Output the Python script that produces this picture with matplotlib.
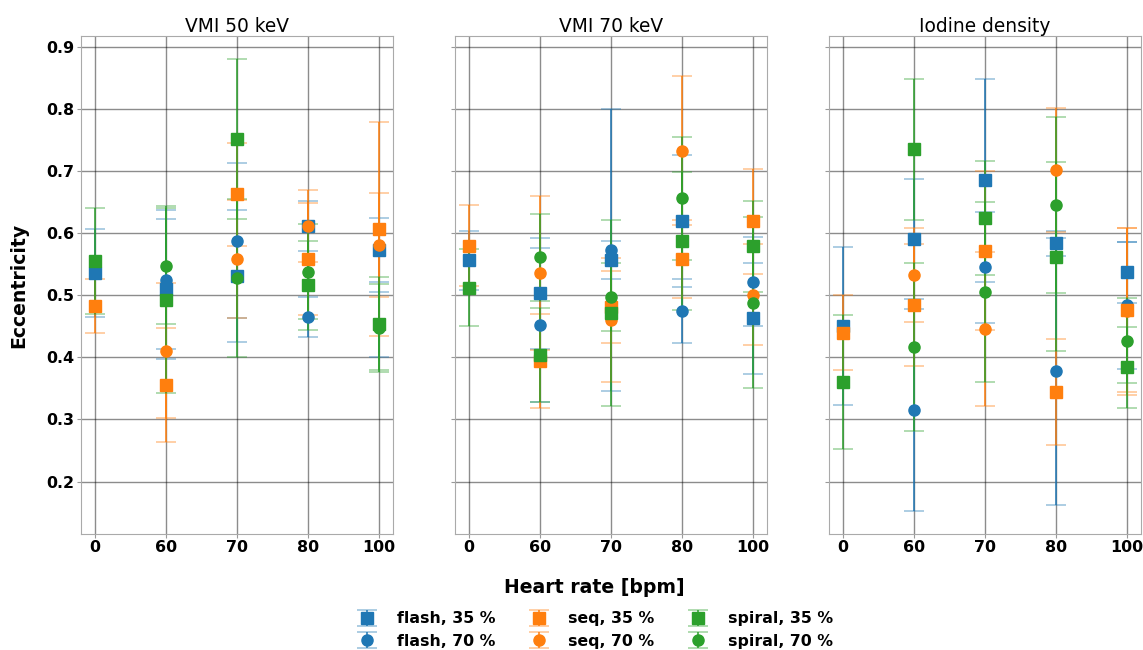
import numpy as np
import matplotlib.pyplot as plt

# heart rate groups (categorical x positions)
hr_labels = ["0", "60", "70", "80", "100"]
panel_titles = ["VMI 50 keV", "VMI 70 keV", "Iodine density"]
series_names = ["flash, 35 %", "flash, 70 %", "seq, 35 %", "seq, 70 %",
                "spiral, 35 %", "spiral, 70 %"]
series_colors = ["tab:blue", "tab:blue", "tab:orange", "tab:orange",
                 "tab:green", "tab:green"]
series_markers = ["s", "o", "s", "o", "s", "o"]

nan = np.nan

# VMI 50 keV : mean eccentricity and std per heart rate
vmi50_mean = [
    [0.536, 0.510, 0.531, 0.612, 0.573],  # flash 35
    [nan, 0.525, 0.588, 0.465, 0.453],    # flash 70
    [0.483, 0.355, 0.663, 0.558, 0.607],  # seq 35
    [nan, 0.411, 0.558, 0.612, 0.581],    # seq 70
    [0.555, 0.493, 0.752, 0.516, 0.454],  # spiral 35
    [nan, 0.547, 0.528, 0.538, 0.447],    # spiral 70
]
vmi50_sd = [
    [0.071, 0.113, 0.107, 0.040, 0.052],
    [nan, 0.112, 0.125, 0.033, 0.053],
    [0.044, 0.092, 0.083, 0.090, 0.172],
    [nan, 0.108, 0.095, 0.058, 0.083],
    [0.085, 0.150, 0.129, 0.072, 0.075],
    [nan, 0.094, 0.127, 0.076, 0.071],
]

# VMI 70 keV
vmi70_mean = [
    [0.556, 0.503, 0.557, 0.620, 0.463],
    [nan, 0.452, 0.573, 0.475, 0.522],
    [0.580, 0.394, 0.481, 0.559, 0.619],
    [nan, 0.536, 0.460, 0.733, 0.501],
    [0.512, 0.404, 0.472, 0.587, 0.579],
    [nan, 0.561, 0.497, 0.656, 0.488],
]
vmi70_sd = [
    [0.047, 0.090, 0.031, 0.106, 0.089],
    [nan, 0.124, 0.227, 0.052, 0.072],
    [0.065, 0.076, 0.058, 0.063, 0.085],
    [nan, 0.124, 0.100, 0.120, 0.081],
    [0.062, 0.076, 0.150, 0.111, 0.073],
    [nan, 0.070, 0.055, 0.099, 0.138],
]

# Iodine density
iod_mean = [
    [0.451, 0.591, 0.685, 0.584, 0.537],
    [nan, 0.315, 0.545, 0.378, 0.484],
    [0.440, 0.484, 0.572, 0.344, 0.476],
    [nan, 0.533, 0.446, 0.702, 0.474],
    [0.361, 0.735, 0.625, 0.562, 0.384],
    [nan, 0.417, 0.505, 0.645, 0.427],
]
iod_sd = [
    [0.127, 0.097, 0.164, 0.020, 0.049],
    [nan, 0.163, 0.089, 0.215, 0.102],
    [0.060, 0.098, 0.128, 0.085, 0.132],
    [nan, 0.076, 0.124, 0.100, 0.134],
    [0.108, 0.113, 0.092, 0.152, 0.065],
    [nan, 0.135, 0.145, 0.142, 0.068],
]

panel_means = [vmi50_mean, vmi70_mean, iod_mean]
panel_sds = [vmi50_sd, vmi70_sd, iod_sd]

x = np.arange(len(hr_labels))

fig = plt.figure(figsize=(11.43, 6.5), dpi=100)
lefts = [0.0706, 0.3981, 0.7253]
axes = []
for i, left in enumerate(lefts):
    ax = fig.add_axes([left, 0.1785, 0.273, 0.766],
                      sharey=axes[0] if axes else None)
    axes.append(ax)

handles = []
for p, ax in enumerate(axes):
    for s in range(len(series_names)):
        eb = ax.errorbar(x, panel_means[p][s], yerr=panel_sds[p][s],
                         fmt=series_markers[s], color=series_colors[s],
                         ms=8, capsize=7.5, elinewidth=1.3, capthick=1.3,
                         label=series_names[s])
        for cap in eb[1]:
            cap.set_alpha(0.4)
        eb[2][0].set_alpha(0.85)
        if p == 0:
            handles.append(eb)

    ax.set_title(panel_titles[p], fontsize=13.4, pad=3)
    ax.set_xticks(x)
    ax.set_xticklabels(hr_labels)
    ax.set_axisbelow(True)
    ax.grid(True, color="black", alpha=0.45, linewidth=1.0)
    ax.tick_params(labelsize=11.4, length=3, pad=1.5, color="#999999")
    for sp in ax.spines.values():
        sp.set_color("#aaaaaa")
    for lab in ax.get_xticklabels() + ax.get_yticklabels():
        lab.set_fontweight("bold")
    if p > 0:
        ax.tick_params(labelleft=False)

axes[0].set_yticks([0.2, 0.3, 0.4, 0.5, 0.6, 0.7, 0.8, 0.9])
for lab in axes[0].get_yticklabels():
    lab.set_fontweight("bold")

fig.text(0.016, 0.5615, "Eccentricity", rotation=90, ha="center", va="center",
         fontsize=13.6, fontweight="bold")
fig.text(0.52, 0.0954, "Heart rate [bpm]", ha="center", va="center",
         fontsize=13.6, fontweight="bold")

fig.legend(handles, series_names, ncol=3, loc="upper center",
           bbox_to_anchor=(0.518, 0.081), frameon=False,
           prop={"weight": "bold", "size": 11.3},
           handletextpad=0.9, columnspacing=1.75, labelspacing=0.45)

fig.savefig("out.png", dpi=100)
